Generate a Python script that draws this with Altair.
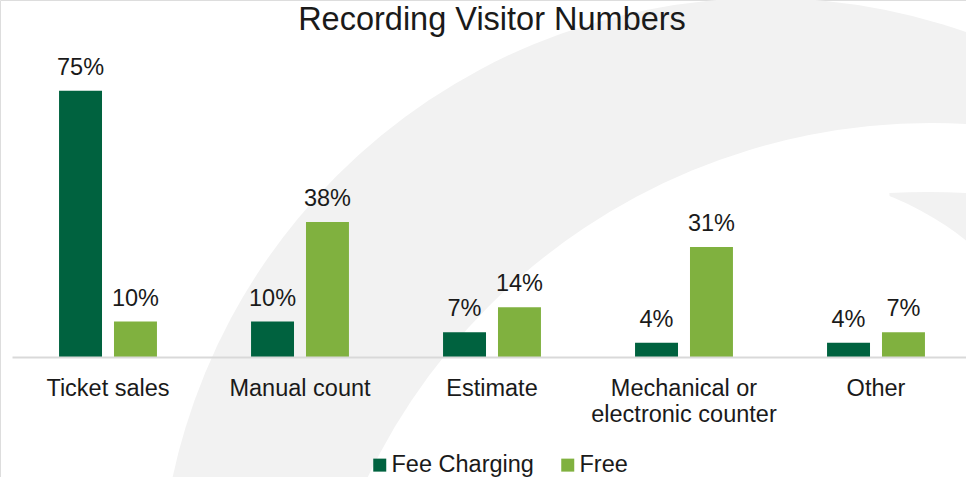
import altair as alt
import pandas as pd

categories = ["Ticket sales", "Manual count", "Estimate",
              "Mechanical or electronic counter", "Other"]
fee_charging = [75, 10, 7, 4, 4]
free = [10, 38, 14, 31, 7]
series = ["Fee Charging", "Free"]
colors = ["#00623F", "#80B13F"]

rows = []
for c, a, b in zip(categories, fee_charging, free):
    rows.append({"category": c, "series": series[0], "value": a, "label": f"{a}%"})
    rows.append({"category": c, "series": series[1], "value": b, "label": f"{b}%"})
df = pd.DataFrame(rows)

FONT = "Liberation Sans"
TEXT = "#1a1a1a"
SWOOSH = "#f2f2f2"

x_enc = alt.X(
    "category:N", sort=categories,
    scale=alt.Scale(range=[12, 972], paddingInner=0.49, paddingOuter=0.245),
    axis=alt.Axis(
        title=None, labelAngle=0, offset=-120, ticks=False, tickSize=0,
        labelPadding=19, labelFontSize=23.5, labelFont=FONT, labelColor=TEXT,
        domainColor="#d9d9d9", domainWidth=2, labelLineHeight=26,
        labelLimit=400, labelOverlap=False, grid=False, zindex=1,
        labelExpr="datum.label == 'Mechanical or electronic counter' ? ['Mechanical or', 'electronic counter'] : datum.label",
    ),
)
y_enc = alt.Y("value:Q", scale=alt.Scale(domain=[0, 80], range=[357, 73]), axis=None)
xo_enc = alt.XOffset("series:N", sort=series,
                     scale=alt.Scale(paddingInner=0.218, paddingOuter=0))
color_enc = alt.Color(
    "series:N", sort=series,
    scale=alt.Scale(domain=series, range=colors),
    legend=alt.Legend(
        title=None, orient="none", legendX=368, legendY=453,
        direction="horizontal", symbolType="square", symbolSize=169,
        symbolStrokeWidth=0, labelFontSize=23.5, labelFont=FONT,
        labelColor=TEXT, labelOffset=0, columnPadding=22,
    ),
)

one = pd.DataFrame({"k": [0]})

# decorative background swoosh
outer = alt.Chart(one).mark_arc(radius=607, theta=0, theta2=6.2832,
                                color=SWOOSH, clip=True).encode(
    x=alt.value(766), y=alt.value(605))
inner = alt.Chart(one).mark_arc(radius=625, theta=0, theta2=6.2832,
                                color="#ffffff", clip=True).encode(
    x=alt.value(931), y=alt.value(748))
wedge = alt.Chart(one).mark_arc(radius=700, theta=6.228, theta2=6.40,
                                color=SWOOSH, clip=True).encode(
    x=alt.value(928), y=alt.value(892))
wedge_cut = alt.Chart(one).mark_arc(radius=300, theta=0, theta2=6.2832,
                                    color="#ffffff", clip=True).encode(
    x=alt.value(779), y=alt.value(475))

base = alt.Chart(df)
bars = base.mark_bar().encode(x=x_enc, y=y_enc, xOffset=xo_enc, color=color_enc)
labels = base.mark_text(dy=-16, baseline="alphabetic", fontSize=23.5,
                        font=FONT, color=TEXT).encode(
    x=x_enc, y=y_enc, xOffset=xo_enc, text="label:N")

chart = alt.layer(outer, inner, wedge, wedge_cut, bars, labels).properties(
    width=966, height=477,
    autosize=alt.AutoSizeParams(type="none"),
    padding=0,
    title=alt.TitleParams(
        "Recording Visitor Numbers", fontSize=32.5, font=FONT, color=TEXT,
        fontWeight="normal", anchor="middle", frame="group",
        baseline="alphabetic", offset=0, dy=62, dx=9),
).configure_view(strokeWidth=0).configure(background="#ffffff")

chart.save("out.html", embed_options={"renderer": "svg", "actions": False})
